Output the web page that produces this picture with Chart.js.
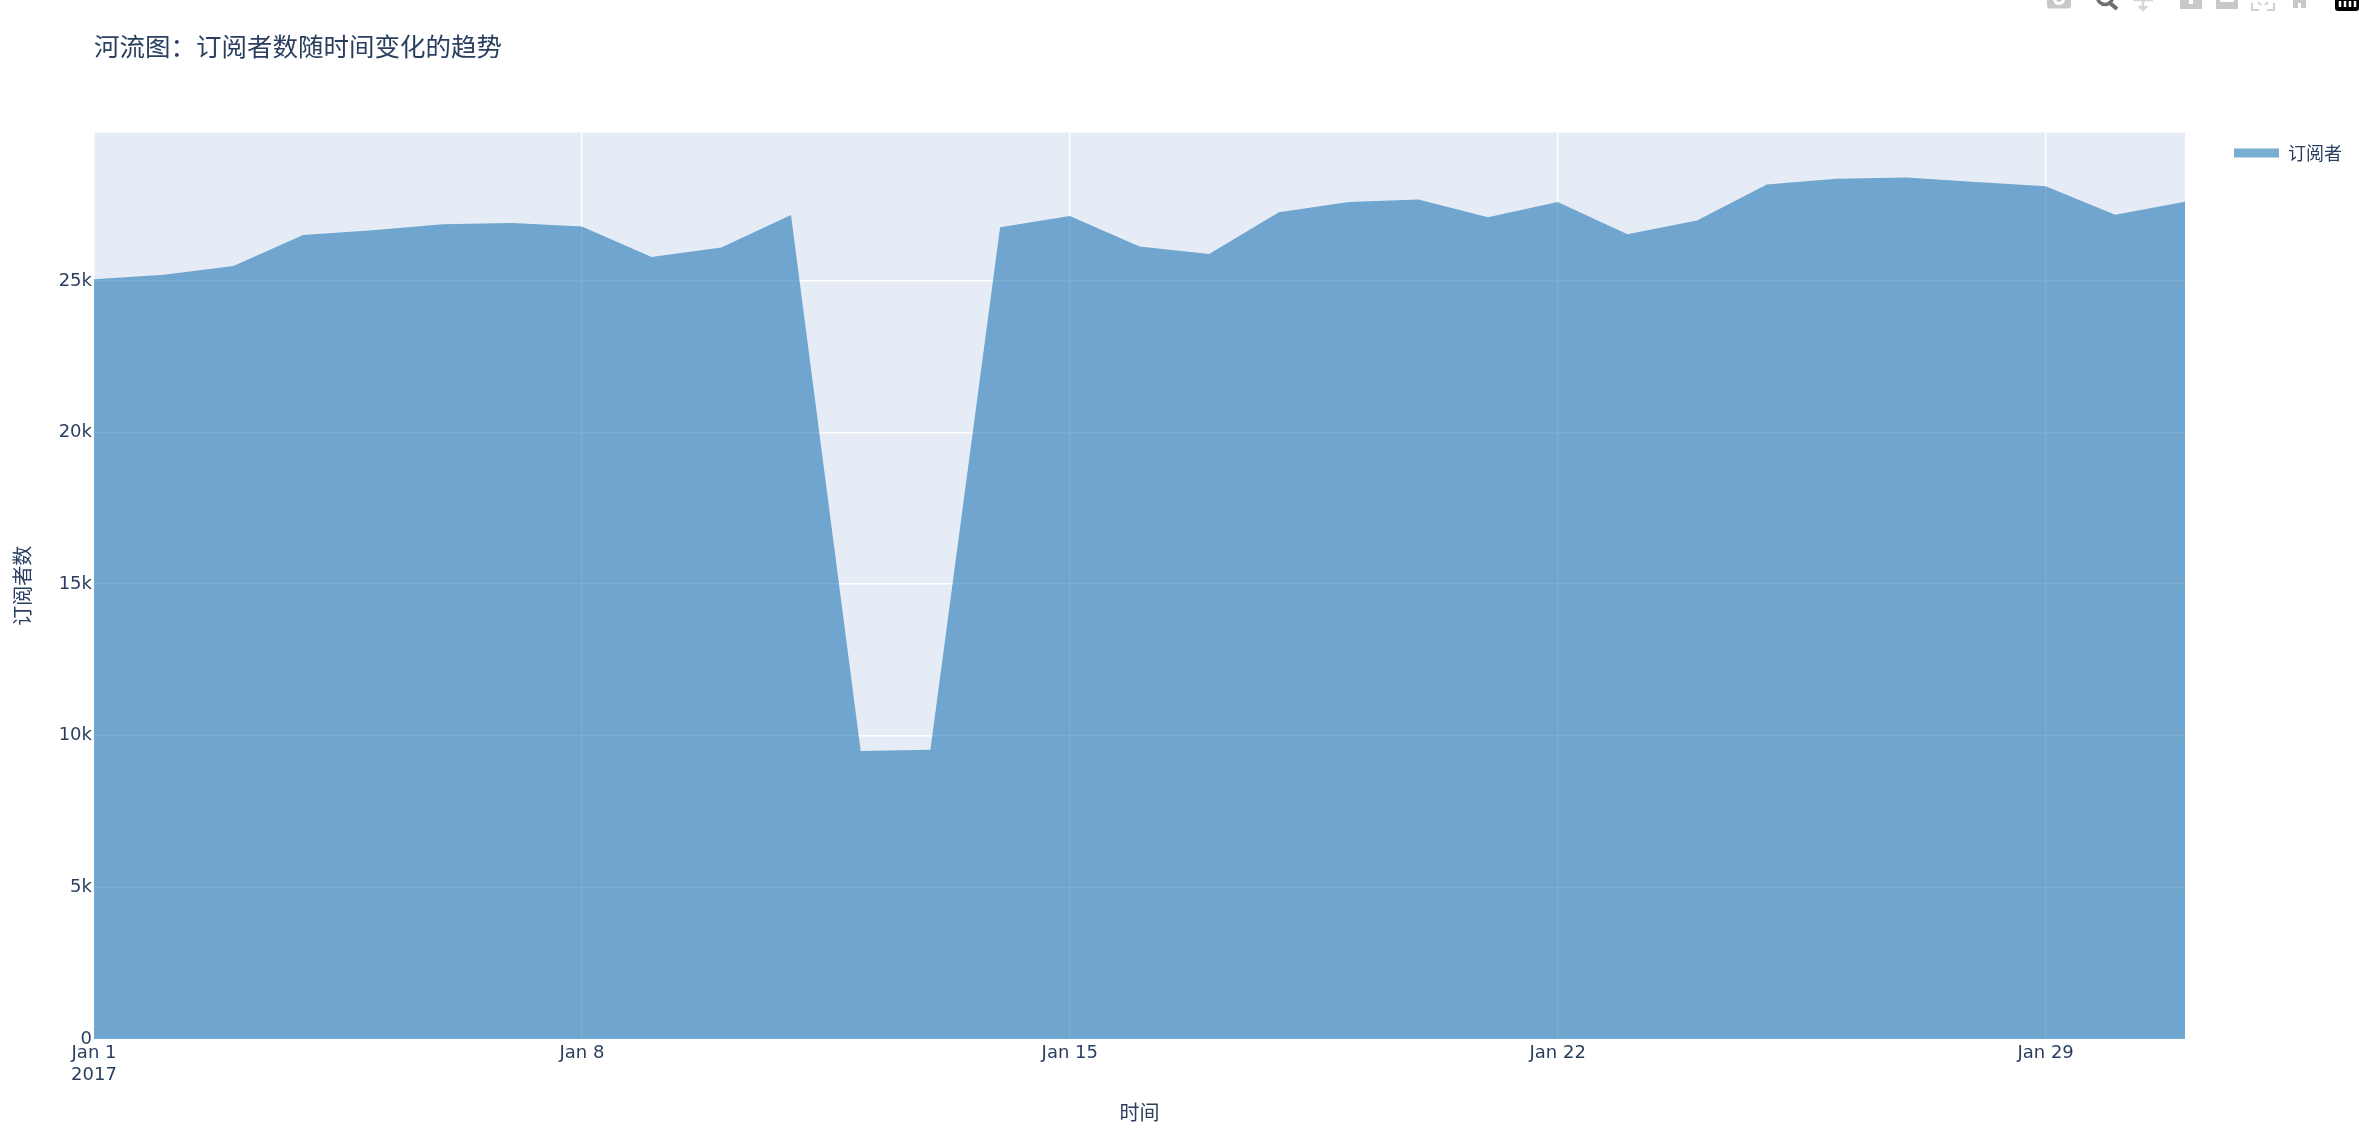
<!DOCTYPE html>
<html>
<head>
<meta charset="utf-8">
<title>河流图</title>
<script src="https://cdn.jsdelivr.net/npm/chart.js@4/dist/chart.umd.min.js"></script>
<style>
  html, body { margin: 0; padding: 0; background: #fff; overflow: hidden; }
  #wrap { position: relative; width: 2372px; height: 1138px; }
  #modebar { position: absolute; left: 0; top: 0; }
</style>
</head>
<body>
<div id="wrap">
  <canvas id="chart" width="2372" height="1138"></canvas>
  <!-- toolbar icons, cut off by the top of the page like in the screenshot -->
  <svg id="modebar" width="2372" height="20" fill="#c8c8c8">
    <rect x="2047" y="-8" width="24" height="16.5" rx="3"/>
    <circle cx="2059" cy="-1" r="6" fill="#fff"/>
    <circle cx="2059" cy="-1" r="3"/>
    <circle cx="2105" cy="-3" r="7.5" fill="none" stroke="#6e6e6e" stroke-width="3.5"/>
    <path d="M2110 3l7 6" stroke="#6e6e6e" stroke-width="4"/>
    <path d="M2143 -2v10M2139 6l4 4 4-4M2133 0h20" fill="none" stroke="#d6d6d6" stroke-width="2.5"/>
    <rect x="2180" y="-10" width="22" height="19"/>
    <path d="M2191 -2v6" stroke="#fff" stroke-width="4"/>
    <rect x="2216" y="-10" width="22" height="19"/>
    <path d="M2220 1h14" stroke="#fff" stroke-width="2"/>
    <path d="M2252 3v7h7M2274 3v7h-7M2258 2l3 3M2268 2l-3 3M2258 -2h10" fill="none" stroke="#d0d0d0" stroke-width="2"/>
    <path d="M2291 -4h17v3l-2 1v8h-5v-5h-3v5h-5v-8l-2-1z"/>
    <rect x="2335" y="-10" width="24" height="21" rx="3" fill="#000"/>
    <path d="M2340 1v6M2345 1v6M2350 1v6M2355 1v6" stroke="#fff" stroke-width="2.5"/>
  </svg>
</div>
<script>
// data
const dayLabels = ['Jan 1','Jan 2','Jan 3','Jan 4','Jan 5','Jan 6','Jan 7','Jan 8','Jan 9','Jan 10',
  'Jan 11','Jan 12','Jan 13','Jan 14','Jan 15','Jan 16','Jan 17','Jan 18','Jan 19','Jan 20',
  'Jan 21','Jan 22','Jan 23','Jan 24','Jan 25','Jan 26','Jan 27','Jan 28','Jan 29','Jan 30','Jan 31'];
const subscribers = [25050,25200,25490,26510,26670,26870,26910,26790,25790,26100,
  27170,9500,9540,26770,27140,26130,25890,27260,27600,27680,
  27100,27600,26540,26990,28180,28370,28410,28260,28120,27180,27610];
const yTicks = [0,5000,10000,15000,20000,25000];
const yMax = 29890;
const seriesName = '订阅者';
const chartTitle = '河流图：订阅者数随时间变化的趋势';
const xTitle = '时间';
const yTitle = '订阅者数';

const inkColor = '#2a3f5f';
const fontStack = '"DejaVu Sans", "Noto Sans CJK SC", sans-serif';
const cjkStack = '"Noto Sans CJK SC", "DejaVu Sans", sans-serif';

const plotBackground = {
  id: 'plotBackground',
  beforeDraw(chart) {
    const { ctx, chartArea: a } = chart;
    ctx.save();
    ctx.fillStyle = '#e5ecf6';
    ctx.fillRect(a.left, a.top, a.right - a.left, a.bottom - a.top);
    ctx.restore();
  }
};

// legend sits further off the plot than chart.js would put it
const legendPlacement = {
  id: 'legendPlacement',
  afterLayout(chart) {
    const legend = chart.legend;
    legend.left = 2223;
    legend.right = 2372;
    legend.width = legend.right - legend.left;
    legend.top = 133;
  }
};

new Chart(document.getElementById('chart').getContext('2d'), {
  type: 'line',
  data: {
    labels: dayLabels,
    datasets: [{
      label: seriesName,
      data: subscribers,
      fill: 'origin',
      tension: 0,
      pointRadius: 0,
      borderWidth: 0,
      borderColor: 'rgba(31,119,180,0.6)',
      backgroundColor: 'rgba(31,119,180,0.6)'
    }]
  },
  options: {
    responsive: false,
    animation: false,
    layout: { padding: { top: 0, left: 0, right: 58, bottom: 0 } },
    plugins: {
      tooltip: { enabled: false },
      title: {
        display: true,
        text: chartTitle,
        align: 'start',
        fullSize: false,
        color: inkColor,
        font: { family: cjkStack, size: 25.5, weight: 'normal' },
        padding: { top: 31, bottom: 71 }
      },
      legend: {
        position: 'right',
        align: 'start',
        fullSize: false,
        labels: {
          color: inkColor,
          font: { family: cjkStack, size: 18 },
          boxWidth: 45,
          boxHeight: 9,
          padding: 11
        }
      }
    },
    scales: {
      x: {
        type: 'category',
        offset: false,
        border: { display: false },
        grid: { color: '#ffffff', lineWidth: 1.5, drawTicks: false },
        title: {
          display: true,
          text: xTitle,
          color: inkColor,
          font: { family: cjkStack, size: 20 },
          padding: { top: 18, bottom: 14 }
        },
        ticks: {
          color: inkColor,
          font: { family: fontStack, size: 18 },
          padding: 4,
          maxRotation: 0,
          autoSkip: false,
          callback(value, index) {
            const name = dayLabels[value];
            return value === 0 ? [name, '2017'] : name;
          }
        },
        afterBuildTicks(axis) {
          axis.ticks = axis.ticks.filter(t => t.value % 7 === 0);
        },
        afterFit(axis) { axis.height = 99; }
      },
      y: {
        min: 0,
        max: yMax,
        border: { display: false },
        grid: {
          color: '#ffffff',
          lineWidth: ctx => (ctx.tick && ctx.tick.value === 0 ? 3 : 1.5),
          drawTicks: false
        },
        title: {
          display: true,
          text: yTitle,
          color: inkColor,
          font: { family: cjkStack, size: 20 },
          padding: { top: 10, bottom: 0 }
        },
        ticks: {
          color: inkColor,
          font: { family: fontStack, size: 18 },
          padding: 2,
          includeBounds: false,
          callback: v => (v === 0 ? '0' : (v / 1000) + 'k')
        },
        afterBuildTicks(axis) {
          axis.ticks = yTicks.map(v => ({ value: v }));
        },
        afterFit(axis) { axis.width = 94; }
      }
    }
  },
  plugins: [plotBackground, legendPlacement]
});
</script>
</body>
</html>
